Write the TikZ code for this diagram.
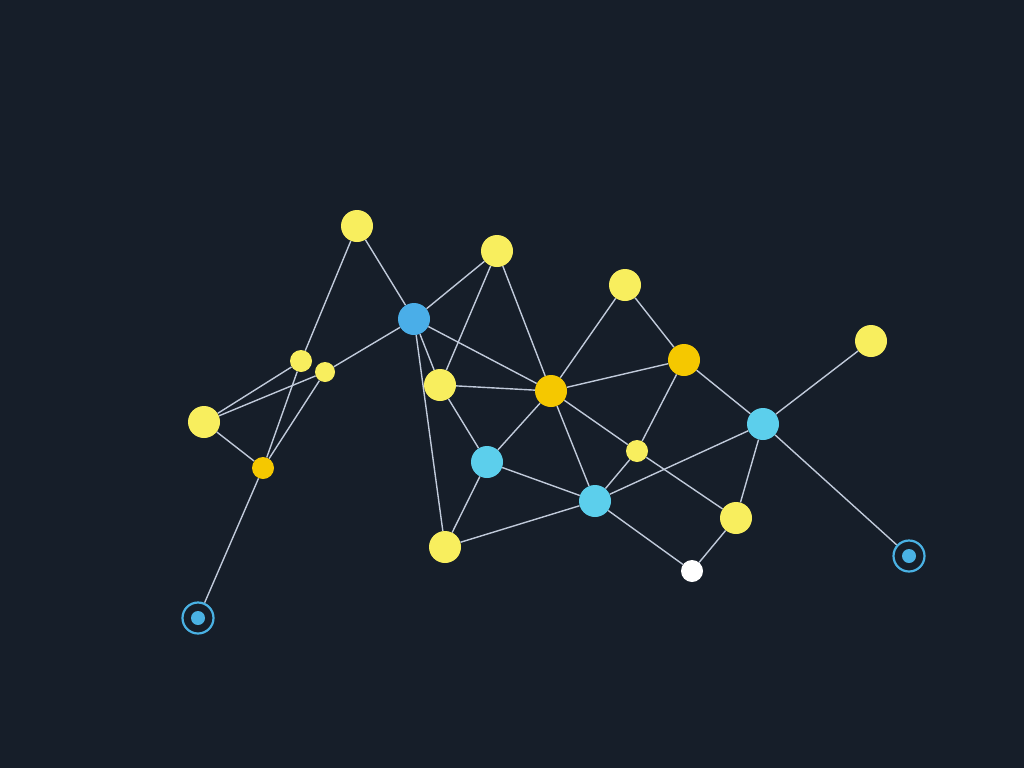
\documentclass[tikz,border=0pt]{standalone}
\usetikzlibrary{backgrounds}
\definecolor{bg}{HTML}{161E29}
\definecolor{ylw}{HTML}{F8EE5E}
\definecolor{gold}{HTML}{F5C800}
\definecolor{blu}{HTML}{4AAEE8}
\definecolor{cyn}{HTML}{5CCFEC}
\definecolor{ring}{HTML}{4AB2E4}
\definecolor{edge}{HTML}{C0CADA}
\tikzset{
  dot/.style={circle, inner sep=0pt, minimum size=32pt},
  big/.style={dot, minimum size=32pt},
  small/.style={dot, minimum size=22pt},
  yel/.style={fill=ylw},
  gld/.style={fill=gold},
  bl/.style={fill=blu},
  cy/.style={fill=cyn},
  wh/.style={fill=white},
  target/.style={circle, inner sep=0pt, minimum size=31pt, draw=ring, line width=2.2pt, fill=bg,
    path picture={\fill[ring] (path picture bounding box.center) circle (7pt);}},
  link/.style={draw=edge, line width=1.4pt}
}
\begin{document}
\begin{tikzpicture}[x=1pt,y=-1pt]
\useasboundingbox (0,0) rectangle (1024,768);
\node[big,yel] (A) at (357,226) {};
\node[big,yel] (B) at (497,251) {};
\node[big,yel] (C) at (625,285) {};
\node[big,yel] (D) at (871,341) {};
\node[big,bl] (E) at (414,319) {};
\node[small,yel] (F) at (301,361) {};
\node[small,yel,minimum size=20pt] (G) at (325,372) {};
\node[big,yel] (H) at (440,385) {};
\node[big,gld] (I) at (551,391) {};
\node[big,gld] (J) at (684,360) {};
\node[big,yel] (K) at (204,422) {};
\node[big,cy] (L) at (763,424) {};
\node[small,yel] (M) at (637,451) {};
\node[small,gld] (N) at (263,468) {};
\node[big,cy] (O) at (487,462) {};
\node[big,cy] (P) at (595,501) {};
\node[big,yel] (Q) at (736,518) {};
\node[big,yel] (R) at (445,547) {};
\node[small,wh] (S) at (692,571) {};
\node[target] (T) at (198,618) {};
\node[target] (U) at (909,556) {};
\begin{scope}[on background layer]
\fill[bg] (0,0) rectangle (1024,768);
\foreach \a/\b in {A/F,A/E,E/G,K/F,K/G,K/N,F/N,G/N,N/T,E/B,E/H,E/I,E/R,B/H,B/I,H/I,H/O,
  I/C,I/J,I/O,I/P,I/M,M/Q,J/M,J/C,J/L,P/L,M/P,O/P,O/R,R/P,P/S,S/Q,Q/L,L/D,L/U}
  \draw[link] (\a) -- (\b);
\end{scope}
\end{tikzpicture}
\end{document}
